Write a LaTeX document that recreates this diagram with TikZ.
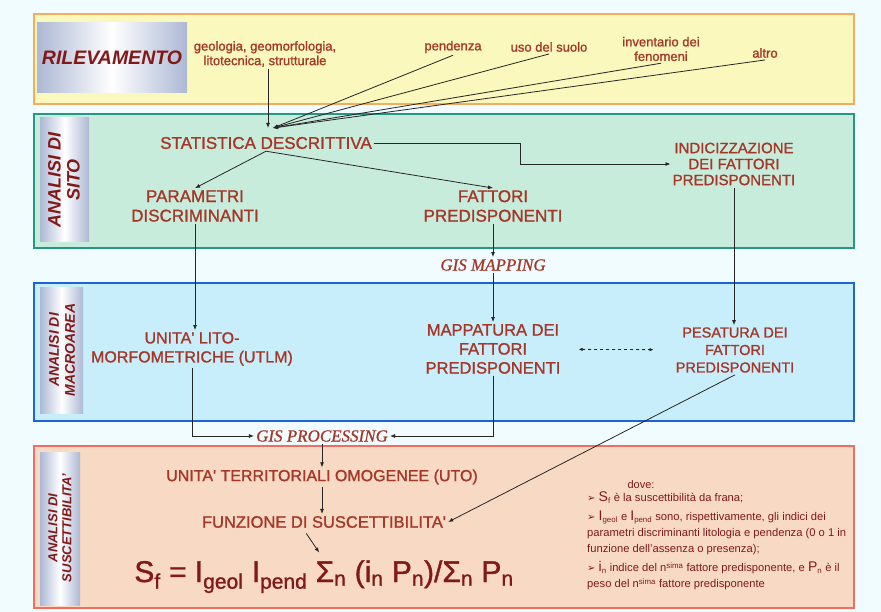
\documentclass[tikz,border=0pt]{standalone}
\usepackage{fontspec}
\setmainfont{Liberation Sans}
\setsansfont{Liberation Sans}
\newfontfamily\lblfont[FakeBold=1.2]{Liberation Sans}
\newfontfamily\gisfont[FakeBold=0.8]{Liberation Serif}
\newfontfamily\dingfont{DejaVu Sans}
\usetikzlibrary{arrows.meta,calc}

\definecolor{bgcyan}{RGB}{240,252,255}
\definecolor{rilfill}{RGB}{250,248,188}
\definecolor{rildraw}{RGB}{246,172,96}
\definecolor{sitofill}{RGB}{200,236,220}
\definecolor{sitodraw}{RGB}{40,150,135}
\definecolor{macrofill}{RGB}{200,238,252}
\definecolor{macrodraw}{RGB}{30,100,210}
\definecolor{suscfill}{RGB}{248,218,196}
\definecolor{suscdraw}{RGB}{240,110,95}
\definecolor{txtred}{RGB}{165,55,40}
\definecolor{darkred}{RGB}{130,25,25}
\definecolor{tabgray}{RGB}{172,184,212}

\newcommand\bul{{\dingfont\fontsize{10}{8}\selectfont ➢}\ }
\newcommand\symb[1]{{\fontsize{14}{12}\selectfont #1}}

\tikzset{
  band/.style={line width=2.5pt},
  tab/.style={left color=tabgray, right color=tabgray, middle color=white},
  tabtext/.style={text=darkred, align=center, rotate=90, inner sep=0pt},
  lbl/.style={text=txtred, align=center, inner sep=2pt},
  src/.style={lbl, font=\lblfont\fontsize{13}{14.5}\selectfont},
  gis/.style={text=txtred, font=\gisfont\itshape\fontsize{17}{19}\selectfont, inner sep=2pt},
  arr/.style={-{Latex[length=5pt,width=4pt]}, line width=0.8pt, black!85},
  dasharr/.style={{Latex[length=4pt,width=3.5pt]}-{Latex[length=4pt,width=3.5pt]},
    dash pattern=on 3pt off 3pt, line width=0.8pt, black!85},
}

\begin{document}
\begin{tikzpicture}[x=1pt,y=-1pt,font=\sffamily]
  \fill[bgcyan, use as bounding box] (0,0) rectangle (881,612);

  % the four bands
  \draw[band, rildraw, fill=rilfill] (34,14) rectangle (854,104);
  \draw[band, sitodraw, fill=sitofill] (34,114) rectangle (854,248);
  \draw[band, macrodraw, fill=macrofill] (34,283) rectangle (854,421);
  \draw[band, suscdraw, fill=suscfill] (34,446) rectangle (854,608);

  % grey tabs with the band names
  \shade[tab] (37,23) rectangle (187,93);
  \shade[tab] (40,118) rectangle (89,242);
  \shade[tab] (40,288) rectangle (83,413);
  \shade[tab] (40,452) rectangle (80,605);
  \node[text=darkred, font=\bfseries\itshape\fontsize{19.5}{20}\selectfont] (rilev) at (112,58) {RILEVAMENTO};
  \node[tabtext, font=\bfseries\itshape\fontsize{18}{19}\selectfont] (sito) at (64,180) {ANALISI DI\\SITO};
  \node[tabtext, font=\bfseries\itshape\fontsize{14}{16}\selectfont] (macro) at (62,350) {ANALISI DI\\MACROAREA};
  \node[tabtext, font=\bfseries\itshape\fontsize{13}{14}\selectfont] (susc) at (60,528) {ANALISI DI\\SUSCETTIBILITA'};

  % rilevamento: data sources
  \node[src] (geo) at (265,54) {geologia, geomorfologia,\\litotecnica, strutturale};
  \node[src] (pend) at (453,47) {pendenza};
  \node[src] (uso) at (549,47) {uso del suolo};
  \node[src] (inv) at (661,49) {inventario dei\\fenomeni};
  \node[src] (altro) at (765,53) {altro};

  % analisi di sito
  \node[lbl, font=\lblfont\fontsize{17}{19}\selectfont] (stat) at (266,143) {STATISTICA DESCRITTIVA};
  \node[lbl, font=\lblfont\fontsize{15}{16}\selectfont] (indic) at (734,164) {INDICIZZAZIONE\\DEI FATTORI\\PREDISPONENTI};
  \node[lbl, font=\lblfont\fontsize{17}{19.5}\selectfont] (param) at (195,206) {PARAMETRI\\DISCRIMINANTI};
  \node[lbl, font=\lblfont\fontsize{17}{19.5}\selectfont] (fatt) at (493,206) {FATTORI\\PREDISPONENTI};
  \node[gis] (gismap) at (493,265) {GIS MAPPING};

  % analisi di macroarea
  \node[lbl, font=\lblfont\fontsize{16}{19}\selectfont] (utlm) at (192,349) {UNITA' LITO-\\MORFOMETRICHE (UTLM)};
  \node[lbl, font=\lblfont\fontsize{16.5}{19}\selectfont] (mapp) at (493,349) {MAPPATURA DEI\\FATTORI\\PREDISPONENTI};
  \node[lbl, font=\lblfont\fontsize{14.5}{17.5}\selectfont] (pesa) at (735,350) {PESATURA DEI\\FATTORI\\PREDISPONENTI};
  \node[gis] (gisproc) at (322,436) {GIS PROCESSING};

  % analisi di suscettibilita'
  \node[lbl, font=\lblfont\fontsize{16}{18}\selectfont] (uto) at (322,477) {UNITA' TERRITORIALI OMOGENEE (UTO)};
  \node[lbl, font=\lblfont\fontsize{16.5}{18}\selectfont] (funz) at (324,522) {FUNZIONE DI SUSCETTIBILITA'};
  \node[text=darkred, font=\lblfont\fontsize{30}{32}\selectfont, anchor=base] (sf) at (324,582)
    {S\textsubscript{f} = I\textsubscript{geol} I\textsubscript{pend} Σ\textsubscript{n} (i\textsubscript{n} P\textsubscript{n})/Σ\textsubscript{n} P\textsubscript{n}};
  \node[text=darkred, font=\fontsize{11}{11}\selectfont] (dove) at (641,485) {dove:};
  \node[text=darkred, font=\fontsize{11.2}{16}\selectfont, align=left, anchor=north west, inner sep=0pt] (notes) at (587,492)
    {\bul\symb{S}\textsubscript{f} è la suscettibilità da frana;\\[3pt]
     \bul\symb{I}\textsubscript{geol} e \symb{I}\textsubscript{pend} sono, rispettivamente, gli indici dei\\
     parametri discriminanti litologia e pendenza (0 o 1 in\\
     funzione dell’assenza o presenza);\\[3pt]
     \bul\symb{i}\textsubscript{n} indice del n\textsuperscript{sima} fattore predisponente, e \symb{P}\textsubscript{n} è il\\
     peso del n\textsuperscript{sima} fattore predisponente};

  % connectors
  \coordinate (hub) at (268,128);
  \coordinate (bend) at (520,143);
  \draw[arr] (geo.south -| hub) -- (hub);
  \foreach \s in {pend,uso,inv,altro}{
    \draw[arr] (\s.south) -- ([xshift=5pt]hub);
  }
  \draw[arr] (stat.east) -- (bend) |- (indic.west);
  \draw[arr] (stat.south) -- (param.north);
  \draw[arr] (stat.south) -- (fatt.north);
  \draw[arr] (fatt) -- (gismap);
  \draw[arr] (gismap) -- (mapp);
  \draw[arr] (param.south) -- (param.south |- utlm.north);
  \draw[arr] (indic.south) -- (indic.south |- pesa.north);
  \draw[dasharr, shorten <=16pt, shorten >=20pt] (mapp) -- (pesa);
  \draw[arr] (utlm.south) |- (gisproc.west);
  \draw[arr] (mapp.south) |- (gisproc.east);
  \draw[arr] (pesa.south) -- (funz.east);
  \draw[arr] (gisproc) -- (uto);
  \draw[arr] (uto.south) -- (uto.south |- funz.north);
  \draw[arr, shorten <=4pt, shorten >=5pt] ([xshift=-20pt]funz.south) -- ([xshift=-2pt]sf.north);
\end{tikzpicture}
\end{document}
